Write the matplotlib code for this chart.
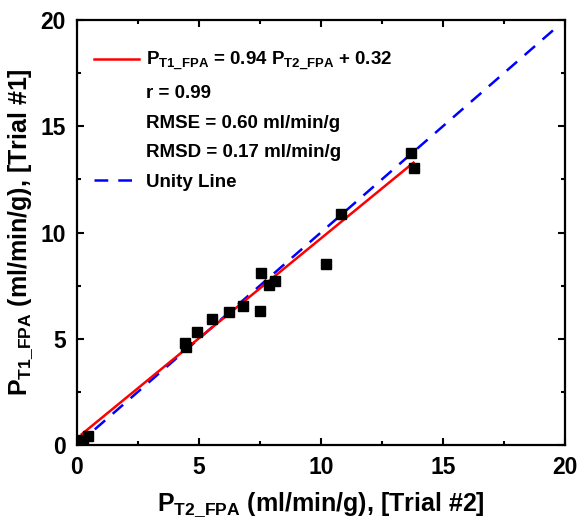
import matplotlib
matplotlib.use('Agg')
import matplotlib.pyplot as plt
from matplotlib.lines import Line2D
import numpy as np

# values
trial2 = [0.16, 0.26, 0.46, 4.43, 4.47, 4.92, 5.52, 6.22, 6.80, 7.49,
          7.54, 7.87, 8.14, 10.23, 10.82, 13.68, 13.81]
trial1 = [0.10, 0.24, 0.44, 4.78, 4.60, 5.33, 5.95, 6.27, 6.56, 6.31,
          8.11, 7.53, 7.73, 8.52, 10.86, 13.73, 13.05]
slope = 0.94
intercept = 0.32
fit_range = [0.2, 13.8]
unity_range = [0.0, 19.8]
ticks = [0, 5, 10, 15, 20]

plt.rcParams['font.family'] = ['Liberation Sans', 'DejaVu Sans']
plt.rcParams['font.weight'] = 'bold'
plt.rcParams['mathtext.fontset'] = 'custom'
plt.rcParams['mathtext.rm'] = 'Liberation Sans:bold'
plt.rcParams['mathtext.it'] = 'Liberation Sans:bold'
plt.rcParams['mathtext.bf'] = 'Liberation Sans:bold'

fig = plt.figure(figsize=(5.78, 5.31), dpi=100)
ax = fig.add_axes([0.133, 0.162, 0.977 - 0.133, 0.962 - 0.162])

ax.plot(trial2, trial1, 's', color='black', markersize=7.5, zorder=3)

fx = np.array(fit_range)
ax.plot(fx, slope * fx + intercept, color='red', lw=1.8, zorder=2)
ax.plot(unity_range, unity_range, color='blue', lw=1.8, dashes=(5.5, 4), zorder=1)

ax.set_xlim(0, 20)
ax.set_ylim(0, 20)
ax.set_xticks(ticks)
ax.set_yticks(ticks)
ax.set_xticks(np.arange(2.5, 20, 5), minor=True)
ax.set_yticks(np.arange(2.5, 20, 5), minor=True)
ax.tick_params(which='both', direction='in', top=True, right=True, width=1.5)
ax.tick_params(which='major', length=5, labelsize=16.5, pad=8)
ax.tick_params(which='minor', length=3)
for s in ax.spines.values():
    s.set_linewidth(1.6)

ax.set_xlabel(r'P$_{\mathrm{T2\_FPA}}$ (ml/min/g), [Trial #2]', fontsize=18,
              fontweight='bold', labelpad=8)
ax.set_ylabel(r'P$_{\mathrm{T1\_FPA}}$ (ml/min/g), [Trial #1]', fontsize=18,
              fontweight='bold', labelpad=4)

blank = Line2D([], [], color='none')
handles = [Line2D([], [], color='red', lw=1.8), blank, blank, blank,
           Line2D([], [], color='blue', lw=1.8, dashes=(5.5, 4))]
labels = [r'P$_{\mathrm{T1\_FPA}}$ = 0.94 P$_{\mathrm{T2\_FPA}}$ + 0.32',
          'r = 0.99', 'RMSE = 0.60 ml/min/g', 'RMSD = 0.17 ml/min/g',
          'Unity Line']
ax.legend(handles, labels, loc='upper left', frameon=False,
          prop={'size': 13.5, 'weight': 'bold'}, handlelength=2.4,
          handletextpad=0.4, labelspacing=0.66,
          bbox_to_anchor=(0.0, 0.97))

fig.savefig('out.png', dpi=100)
